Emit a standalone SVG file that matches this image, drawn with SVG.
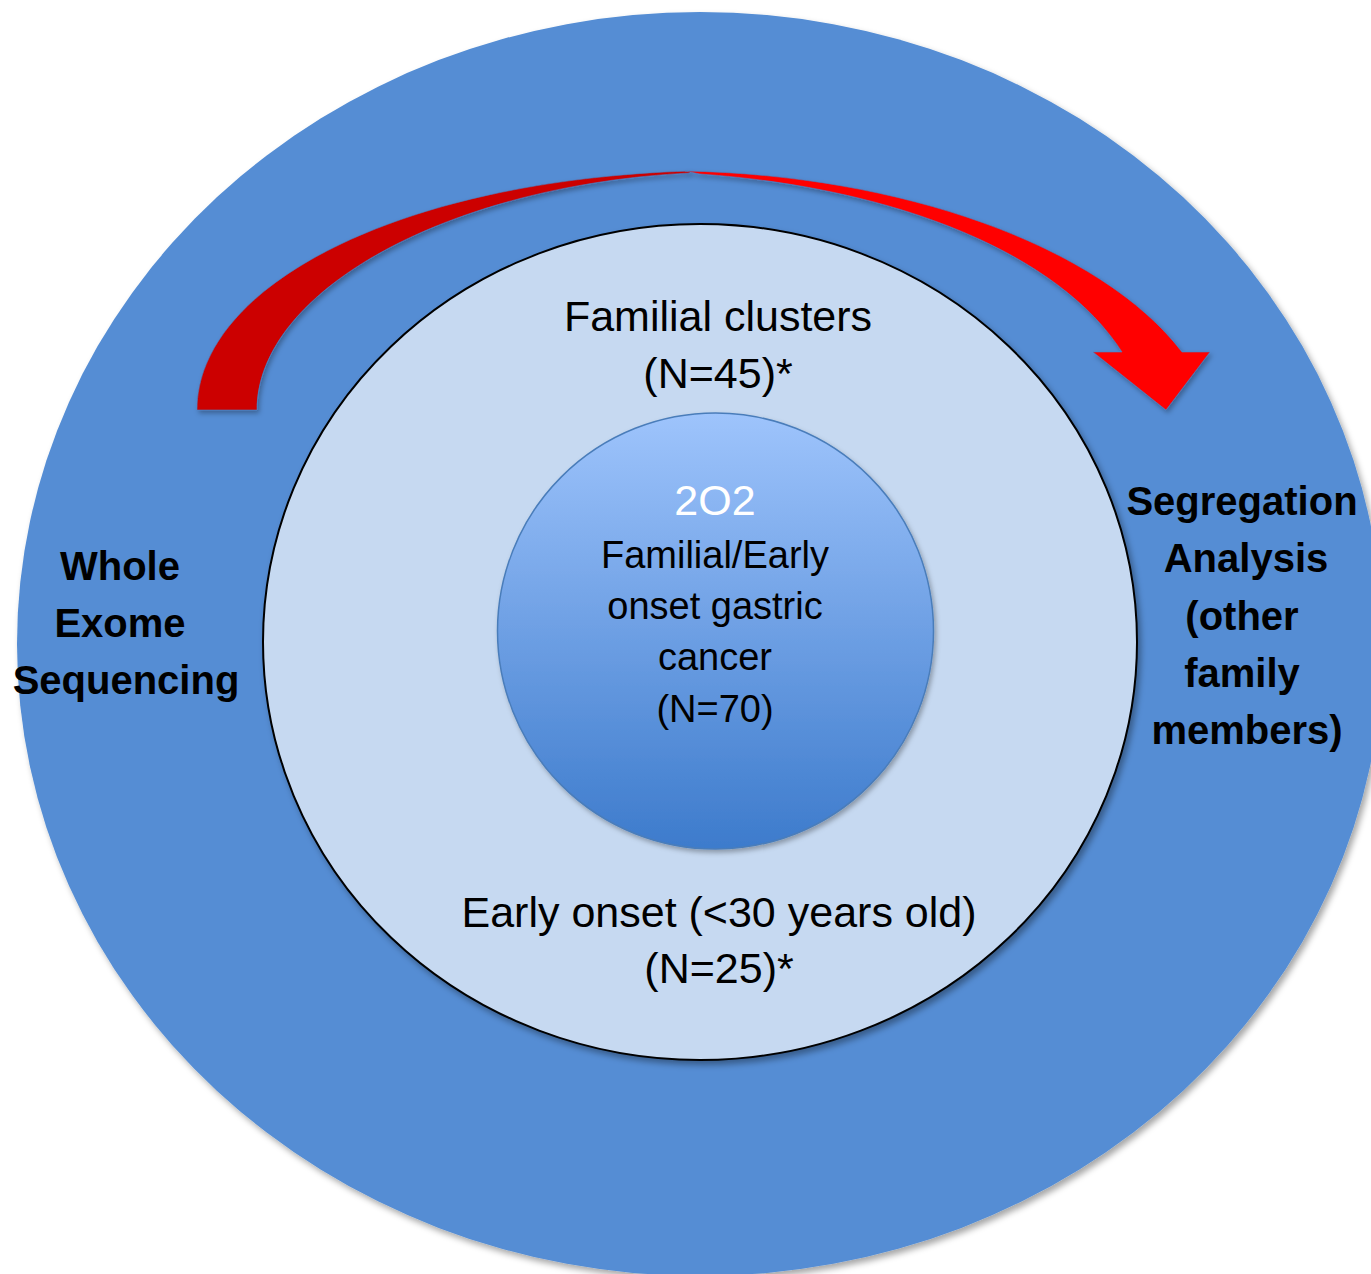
<svg xmlns="http://www.w3.org/2000/svg" width="1371" height="1274" viewBox="0 0 1371 1274">
  <style>
    .reg { font-family: "Liberation Sans", Arial, sans-serif; font-size: 43px; fill: #000; text-anchor: middle; }
    .inner { font-family: "Liberation Sans", Arial, sans-serif; font-size: 38px; fill: #000; text-anchor: middle; }
    .bold { font-family: "Liberation Sans", Arial, sans-serif; font-size: 40px; font-weight: bold; fill: #000; text-anchor: middle; }
  </style>
  <defs>
    <linearGradient id="innerGrad" x1="0" y1="0" x2="0" y2="1">
      <stop offset="0" stop-color="#9ec4fc"/>
      <stop offset="1" stop-color="#3d7bcc"/>
    </linearGradient>
    <filter id="shadow" x="-10%" y="-10%" width="120%" height="120%">
      <feDropShadow dx="3" dy="4" stdDeviation="3" flood-color="#000" flood-opacity="0.35"/>
    </filter>
    <filter id="shadowSoft" x="-10%" y="-10%" width="120%" height="120%">
      <feDropShadow dx="2" dy="3" stdDeviation="2.5" flood-color="#000" flood-opacity="0.3"/>
    </filter>
  </defs>
  <rect width="1371" height="1274" fill="#ffffff"/>

  <g id="outer-ring">
    <ellipse cx="700" cy="644" rx="683" ry="632" fill="#548dd4" filter="url(#shadow)"/>
    <text class="bold" x="120" y="580">Whole</text>
    <text class="bold" x="120" y="637">Exome</text>
    <text class="bold" x="126" y="694">Sequencing</text>
    <text class="bold" x="1242" y="515">Segregation</text>
    <text class="bold" x="1246" y="572">Analysis</text>
    <text class="bold" x="1242" y="630">(other</text>
    <text class="bold" x="1242" y="687">family</text>
    <text class="bold" x="1247" y="744">members)</text>
  </g>

  <g id="middle-ring">
    <ellipse cx="700" cy="642" rx="437" ry="418" fill="#c6d9f1" stroke="#000" stroke-width="2" filter="url(#shadow)"/>
    <text class="reg" x="718" y="331">Familial clusters</text>
    <text class="reg" x="718" y="388">(N=45)*</text>
    <text class="reg" x="719" y="927">Early onset (&lt;30 years old)</text>
    <text class="reg" x="719" y="983">(N=25)*</text>
  </g>

  <g id="inner-circle">
    <circle cx="715.5" cy="631" r="218" fill="url(#innerGrad)" stroke="#4a7dba" stroke-width="1.5" filter="url(#shadowSoft)"/>
    <text class="reg" x="715" y="515" style="fill:#ffffff">2O2</text>
    <text class="inner" x="715" y="568">Familial/Early</text>
    <text class="inner" x="715" y="619">onset gastric</text>
    <text class="inner" x="715" y="670">cancer</text>
    <text class="inner" x="715" y="722">(N=70)</text>
  </g>

  <g id="connectors">
    <path d="M197,410 C197,285 400,180 690,171 L690,173 C450,185 257,290 257,410 Z" fill="#cc0000" stroke="#4f7fbf" stroke-width="1" stroke-opacity="0.6" filter="url(#shadowSoft)"/>
    <path d="M685,171 C900,175 1100,245 1182,352 L1210,352 L1166,410 L1093,352 L1122,352 C1060,255 900,188 700,174 Z" fill="#ff0000" stroke="#4f7fbf" stroke-width="1" stroke-opacity="0.6" filter="url(#shadowSoft)"/>
  </g>
</svg>
